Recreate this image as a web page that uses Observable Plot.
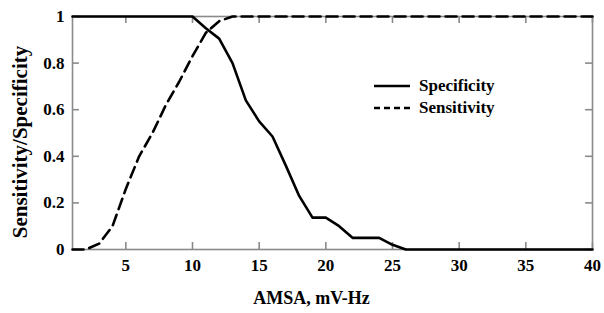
<!DOCTYPE html>
<html>
<head>
<meta charset="utf-8">
<script src="https://cdn.jsdelivr.net/npm/d3@7"></script>
<script src="https://cdn.jsdelivr.net/npm/@observablehq/plot@0.6"></script>
<style>
  html, body { margin: 0; padding: 0; background: #fff; }
  #wrap { position: relative; width: 604px; height: 313px; font-family: "Liberation Serif", "Times New Roman", serif; font-weight: bold; }
  #wrap svg text { font-weight: bold; font-family: "Liberation Serif", "Times New Roman", serif; }
  #legend { position: absolute; left: 374px; top: 75px; font-size: 17px; line-height: 22px; }
  #legend .row { display: flex; align-items: center; height: 22px; }
  #legend svg { margin-right: 9px; }
</style>
</head>
<body>
<div id="wrap"></div>
<script>
const amsa = [1,2,3,4,5,6,7,8,9,10,11,12,13,14,15,16,17,18,19,20,21,22,23,24,25,26,27,28,29,30,31,32,33,34,35,36,37,38,39,40];
const specificity = [1,1,1,1,1,1,1,1,1,1,0.95,0.905,0.8,0.64,0.55,0.485,0.36,0.23,0.137,0.137,0.1,0.05,0.05,0.05,0.02,0,0,0,0,0,0,0,0,0,0,0,0,0,0,0];
const sensitivity = [0,0,0.025,0.1,0.26,0.4,0.5,0.62,0.72,0.83,0.93,0.98,1,1,1,1,1,1,1,1,1,1,1,1,1,1,1,1,1,1,1,1,1,1,1,1,1,1,1,1];
const xTicks = [5,10,15,20,25,30,35,40];
const yTicks = [0,0.2,0.4,0.6,0.8,1];
const yTickLabels = ["0","0.2","0.4","0.6","0.8","1"];
const seriesNames = ["Specificity","Sensitivity"];

const rows = amsa.map((x, i) => ({x, spec: specificity[i], sens: sensitivity[i]}));
const gray = "#8a8a8a";
const W = 604, H = 313, ML = 72, MR = 12, MT = 16, MB = 64;
// inward tick length in data units (~7px)
const xTickLen = 0.03, yTickLen = 0.52;

const chart = Plot.plot({
  width: W,
  height: H,
  marginLeft: ML,
  marginRight: MR,
  marginTop: MT,
  marginBottom: MB,
  style: {fontFamily: '"Liberation Serif", "Times New Roman", serif', fontWeight: "bold", fontSize: "17px", color: "#000", background: "#fff", overflow: "visible"},
  x: {domain: [1, 40]},
  y: {domain: [0, 1]},
  marks: [
    Plot.frame({stroke: gray, strokeWidth: 1.6}),
    Plot.ruleX(xTicks, {x: (d) => d, y1: 0, y2: xTickLen, stroke: gray, strokeWidth: 1.6}),
    Plot.ruleX(xTicks, {x: (d) => d, y1: 1 - xTickLen, y2: 1, stroke: gray, strokeWidth: 1.6}),
    Plot.ruleY(yTicks, {y: (d) => d, x1: 1, x2: 1 + yTickLen, stroke: gray, strokeWidth: 1.6}),
    Plot.ruleY(yTicks, {y: (d) => d, x1: 40 - yTickLen, x2: 40, stroke: gray, strokeWidth: 1.6}),
    Plot.axisX(xTicks, {anchor: "bottom", tickSize: 0, tickPadding: 9, fontSize: 17, fontWeight: "bold", label: null}),
    Plot.axisY(yTicks, {anchor: "left", tickSize: 0, tickPadding: 8, fontSize: 17, fontWeight: "bold", tickFormat: (d) => yTickLabels[yTicks.indexOf(d)], label: null}),
    Plot.line(rows, {x: "x", y: "sens", stroke: "#000", strokeWidth: 2.6, strokeDasharray: "11,6"}),
    Plot.line(rows, {x: "x", y: "spec", stroke: "#000", strokeWidth: 2.6}),
    Plot.text(["AMSA, mV-Hz"], {frameAnchor: "bottom", dx: -21, dy: 54, fontSize: 18, fontWeight: "bold"}),
    Plot.text(["Sensitivity/Specificity"], {frameAnchor: "left", textAnchor: "middle", dx: -52, dy: 9, rotate: -90, fontSize: 21, fontWeight: "bold"})
  ]
});

const wrap = document.getElementById("wrap");
wrap.appendChild(chart);

const legend = document.createElement("div");
legend.id = "legend";
const dashes = [null, "6,4"];
legend.innerHTML = seriesNames.map((name, i) =>
  `<div class="row"><svg width="36" height="6"><line x1="0" x2="36" y1="3" y2="3" stroke="#000" stroke-width="2.4" ${dashes[i] ? `stroke-dasharray="${dashes[i]}"` : ""}/></svg><span>${name}</span></div>`
).join("");
wrap.appendChild(legend);
</script>
</body>
</html>
